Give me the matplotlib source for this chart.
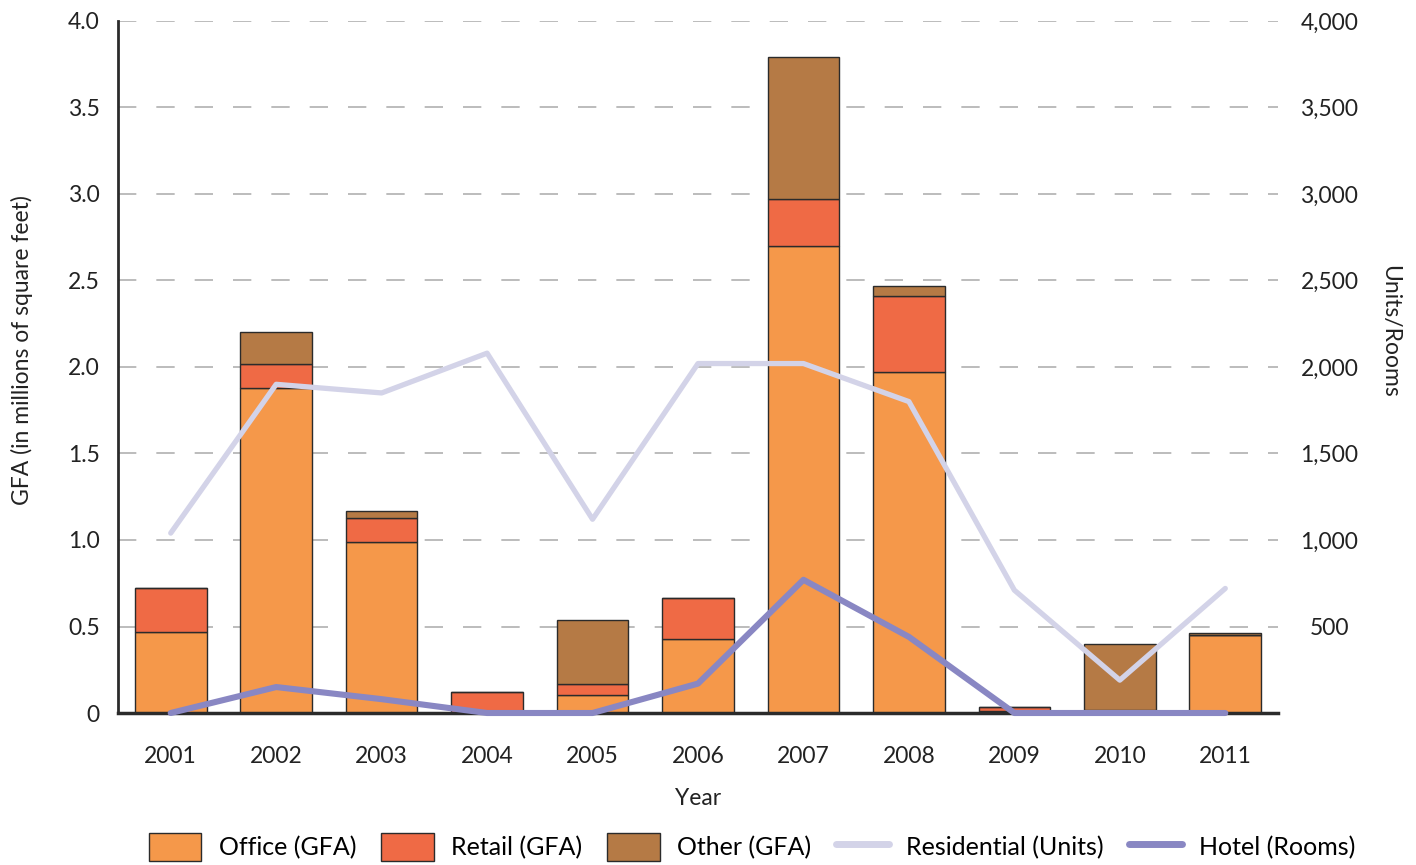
import numpy as np
import matplotlib.pyplot as plt
from matplotlib.patches import Patch
from matplotlib.lines import Line2D

plt.rcParams['font.family'] = ['Lato', 'DejaVu Sans']

# ---- data ----
years = ["2001", "2002", "2003", "2004", "2005", "2006", "2007", "2008", "2009", "2010", "2011"]
office = [0.47, 1.88, 0.99, 0.00, 0.105, 0.43, 2.70, 1.97, 0.010, 0.020, 0.45]   # millions sq ft
retail = [0.25, 0.14, 0.14, 0.12, 0.065, 0.235, 0.27, 0.44, 0.025, 0.000, 0.00]
other = [0.00, 0.18, 0.04, 0.00, 0.37, 0.00, 0.82, 0.06, 0.000, 0.380, 0.015]
residential = [1040, 1900, 1850, 2080, 1120, 2020, 2020, 1800, 710, 190, 720]   # units
hotel = [0, 150, 80, 0, 0, 170, 770, 440, 0, 0, 0]                          # rooms

C_OFFICE = "#F5984A"
C_RETAIL = "#EF6A45"
C_OTHER = "#B57A45"
C_RES = "#D3D3E8"
C_HOTEL = "#8987C3"
EDGE = "#2b2b2b"
TXT = "#222222"

x = np.arange(len(years))
office = np.array(office); retail = np.array(retail); other = np.array(other)

W, H = 1416, 865
fig = plt.figure(figsize=(W / 100, H / 100), dpi=100)
ax = fig.add_axes([118 / W, 1 - 713 / H, 1160 / W, 692 / H])

ax.yaxis.grid(True, color="#b0b0b0", linestyle=(0, (11, 12)), linewidth=1.2)
ax.set_axisbelow(True)

w = 0.68
ax.bar(x, office, w, color=C_OFFICE, edgecolor=EDGE, linewidth=1.0)
ax.bar(x, retail, w, bottom=office, color=C_RETAIL, edgecolor=EDGE, linewidth=1.0)
ax.bar(x, other, w, bottom=office + retail, color=C_OTHER, edgecolor=EDGE, linewidth=1.0)

ax.set_xlim(-0.5, 10.5)
ax.set_ylim(0, 4.0)
ax.set_yticks(np.arange(0, 4.01, 0.5))
ax.set_yticklabels(["0"] + [f"{v:.1f}" for v in np.arange(0.5, 4.01, 0.5)])
ax.set_xticks(x)
ax.set_xticklabels(years)
ax.tick_params(axis="both", length=0, labelsize=16.5, colors=TXT)
ax.tick_params(axis="x", pad=24)
ax.tick_params(axis="y", pad=13)
for s in ["top", "right"]:
    ax.spines[s].set_visible(False)
ax.spines["left"].set_color(EDGE); ax.spines["left"].set_linewidth(2)
ax.spines["bottom"].set_color(EDGE); ax.spines["bottom"].set_linewidth(2.5)
ax.set_xlabel("Year", fontsize=16.5, color=TXT, labelpad=15)

ax2 = ax.twinx()
ax2.plot(x, residential, color=C_RES, linewidth=3.8, solid_capstyle="round", clip_on=False)
ax2.plot(x, hotel, color=C_HOTEL, linewidth=4.4, solid_capstyle="round", clip_on=False)
ax2.set_ylim(0, 4000)
ax2.set_yticks(np.arange(500, 4001, 500))
ax2.set_yticklabels([f"{v:,}" for v in range(500, 4001, 500)])
ax2.tick_params(axis="y", length=0, labelsize=16.5, colors=TXT, pad=37)
for lbl in ax2.get_yticklabels():
    lbl.set_horizontalalignment("center")
for s in ["top", "right", "left", "bottom"]:
    ax2.spines[s].set_visible(False)

# axis titles placed like the reference (slightly above the axes centre)
fig.text(22 / W, 1 - 350 / H, "GFA (in millions of square feet)", rotation=90,
         ha="center", va="center", fontsize=16.5, color=TXT)
fig.text(1390 / W, 1 - 331 / H, "Units/Rooms", rotation=270,
         ha="center", va="center", fontsize=16.5, color=TXT)

handles = [
    Patch(facecolor=C_OFFICE, edgecolor=EDGE, label="Office (GFA)"),
    Patch(facecolor=C_RETAIL, edgecolor=EDGE, label="Retail (GFA)"),
    Patch(facecolor=C_OTHER, edgecolor=EDGE, label="Other (GFA)"),
    Line2D([0], [0], color=C_RES, linewidth=5, solid_capstyle="round", label="Residential (Units)"),
    Line2D([0], [0], color=C_HOTEL, linewidth=5, solid_capstyle="round", label="Hotel (Rooms)"),
]
fig.legend(handles=handles, loc="center", bbox_to_anchor=(752 / W, 1 - 847 / H), ncol=5,
           frameon=False, fontsize=18, handlelength=2.1, handleheight=1.35,
           columnspacing=1.0, handletextpad=0.7, borderpad=0, borderaxespad=0)

plt.savefig("out.png", dpi=100)
